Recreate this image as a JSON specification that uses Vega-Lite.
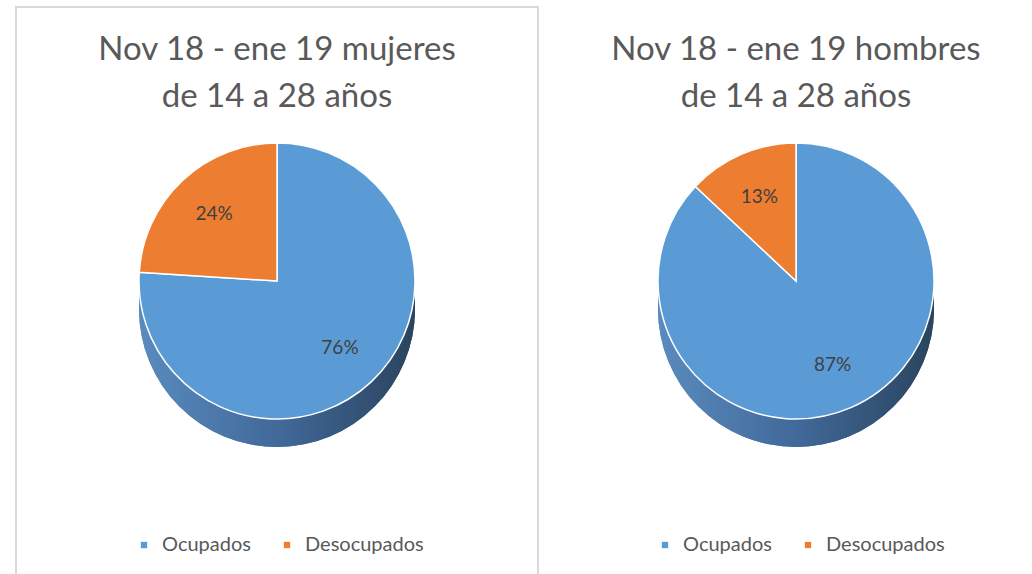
{
  "$schema": "https://vega.github.io/schema/vega-lite/v6.json",
  "background": "white",
  "padding": {"left": 15, "top": 6, "right": 0, "bottom": 0},
  "spacing": 20,
  "datasets": {
    "mujeres": [
      {"grupo": "Ocupados", "valor": 0.76, "orden": 1},
      {"grupo": "Desocupados", "valor": 0.24, "orden": 2}
    ],
    "hombres": [
      {"grupo": "Ocupados", "valor": 0.87, "orden": 1},
      {"grupo": "Desocupados", "valor": 0.13, "orden": 2}
    ]
  },
  "resolve": {"legend": {"color": "independent"}},
  "hconcat": [
    {
      "width": 522,
      "height": 584,
      "data": {"name": "mujeres"},
      "view": {"stroke": "#D9D9D9", "strokeWidth": 2},
      "title": {
        "text": ["Nov 18 - ene 19 mujeres", "de 14 a 28 años"],
        "offset": -107,
        "lineHeight": 47
      },
      "layer": [
        {"mark": {"type": "arc", "theta": 0, "theta2": 6.2832, "outerRadius": 138, "yOffset": -11, "fill": {"gradient": "linear", "x1": 0, "y1": 0, "x2": 1, "y2": 0, "stops": [{"offset": 0, "color": "#5A8BBE"}, {"offset": 0.5, "color": "#41699A"}, {"offset": 1, "color": "#2A445E"}]}}, "encoding": {}},
        {"mark": {"type": "arc", "theta": 0, "theta2": 6.2832, "outerRadius": 138, "yOffset": -4, "fill": {"gradient": "linear", "x1": 0, "y1": 0, "x2": 1, "y2": 0, "stops": [{"offset": 0, "color": "#5A8BBE"}, {"offset": 0.5, "color": "#41699A"}, {"offset": 1, "color": "#2A445E"}]}}, "encoding": {}},
        {"mark": {"type": "arc", "theta": 0, "theta2": 6.2832, "outerRadius": 138, "yOffset": 3, "fill": {"gradient": "linear", "x1": 0, "y1": 0, "x2": 1, "y2": 0, "stops": [{"offset": 0, "color": "#5A8BBE"}, {"offset": 0.5, "color": "#41699A"}, {"offset": 1, "color": "#2A445E"}]}}, "encoding": {}},
        {"mark": {"type": "arc", "theta": 0, "theta2": 6.2832, "outerRadius": 138, "yOffset": 10, "fill": {"gradient": "linear", "x1": 0, "y1": 0, "x2": 1, "y2": 0, "stops": [{"offset": 0, "color": "#5A8BBE"}, {"offset": 0.5, "color": "#41699A"}, {"offset": 1, "color": "#2A445E"}]}}, "encoding": {}},
        {
          "mark": {"type": "arc", "outerRadius": 138, "yOffset": -18, "stroke": "white", "strokeWidth": 1.5},
          "encoding": {
            "theta": {"field": "valor", "type": "quantitative", "stack": true},
            "order": {"field": "orden", "type": "quantitative"},
            "color": {
              "field": "grupo", "type": "nominal",
              "scale": {"domain": ["Ocupados", "Desocupados"], "range": ["#5B9BD5", "#ED7D31"]},
              "legend": {"orient": "none", "legendX": 118, "legendY": 528}
            }
          }
        },
        {
          "mark": {"type": "text", "radius": 92, "yOffset": -18, "fontSize": 19, "font": "Lato", "fill": "#404040"},
          "encoding": {
            "theta": {"field": "valor", "type": "quantitative", "stack": true},
            "order": {"field": "orden", "type": "quantitative"},
            "text": {"field": "valor", "type": "quantitative", "format": ".0%"}
          }
        }
      ]
    },
    {
      "width": 474,
      "height": 584,
      "data": {"name": "hombres"},
      "view": {"stroke": null},
      "title": {
        "text": ["Nov 18 - ene 19 hombres", "de 14 a 28 años"],
        "offset": -107,
        "lineHeight": 47
      },
      "layer": [
        {"mark": {"type": "arc", "theta": 0, "theta2": 6.2832, "outerRadius": 138, "yOffset": -11, "fill": {"gradient": "linear", "x1": 0, "y1": 0, "x2": 1, "y2": 0, "stops": [{"offset": 0, "color": "#5A8BBE"}, {"offset": 0.5, "color": "#41699A"}, {"offset": 1, "color": "#2A445E"}]}}, "encoding": {}},
        {"mark": {"type": "arc", "theta": 0, "theta2": 6.2832, "outerRadius": 138, "yOffset": -4, "fill": {"gradient": "linear", "x1": 0, "y1": 0, "x2": 1, "y2": 0, "stops": [{"offset": 0, "color": "#5A8BBE"}, {"offset": 0.5, "color": "#41699A"}, {"offset": 1, "color": "#2A445E"}]}}, "encoding": {}},
        {"mark": {"type": "arc", "theta": 0, "theta2": 6.2832, "outerRadius": 138, "yOffset": 3, "fill": {"gradient": "linear", "x1": 0, "y1": 0, "x2": 1, "y2": 0, "stops": [{"offset": 0, "color": "#5A8BBE"}, {"offset": 0.5, "color": "#41699A"}, {"offset": 1, "color": "#2A445E"}]}}, "encoding": {}},
        {"mark": {"type": "arc", "theta": 0, "theta2": 6.2832, "outerRadius": 138, "yOffset": 10, "fill": {"gradient": "linear", "x1": 0, "y1": 0, "x2": 1, "y2": 0, "stops": [{"offset": 0, "color": "#5A8BBE"}, {"offset": 0.5, "color": "#41699A"}, {"offset": 1, "color": "#2A445E"}]}}, "encoding": {}},
        {
          "mark": {"type": "arc", "outerRadius": 138, "yOffset": -18, "stroke": "white", "strokeWidth": 1.5},
          "encoding": {
            "theta": {"field": "valor", "type": "quantitative", "stack": true},
            "order": {"field": "orden", "type": "quantitative"},
            "color": {
              "field": "grupo", "type": "nominal",
              "scale": {"domain": ["Ocupados", "Desocupados"], "range": ["#5B9BD5", "#ED7D31"]},
              "legend": {"orient": "none", "legendX": 96, "legendY": 528}
            }
          }
        },
        {
          "mark": {"type": "text", "radius": 92, "yOffset": -18, "fontSize": 19, "font": "Lato", "fill": "#404040"},
          "encoding": {
            "theta": {"field": "valor", "type": "quantitative", "stack": true},
            "order": {"field": "orden", "type": "quantitative"},
            "text": {"field": "valor", "type": "quantitative", "format": ".0%"}
          }
        }
      ]
    }
  ],
  "config": {
    "title": {"font": "Lato", "fontSize": 33, "fontWeight": "normal", "color": "#595959", "anchor": "middle"},
    "legend": {
      "title": null,
      "direction": "horizontal",
      "symbolType": "square",
      "symbolSize": 40,
      "symbolStrokeWidth": 0,
      "labelFont": "Lato",
      "labelFontSize": 20,
      "labelColor": "#595959",
      "labelOffset": 8,
      "columnPadding": 26
    }
  }
}
